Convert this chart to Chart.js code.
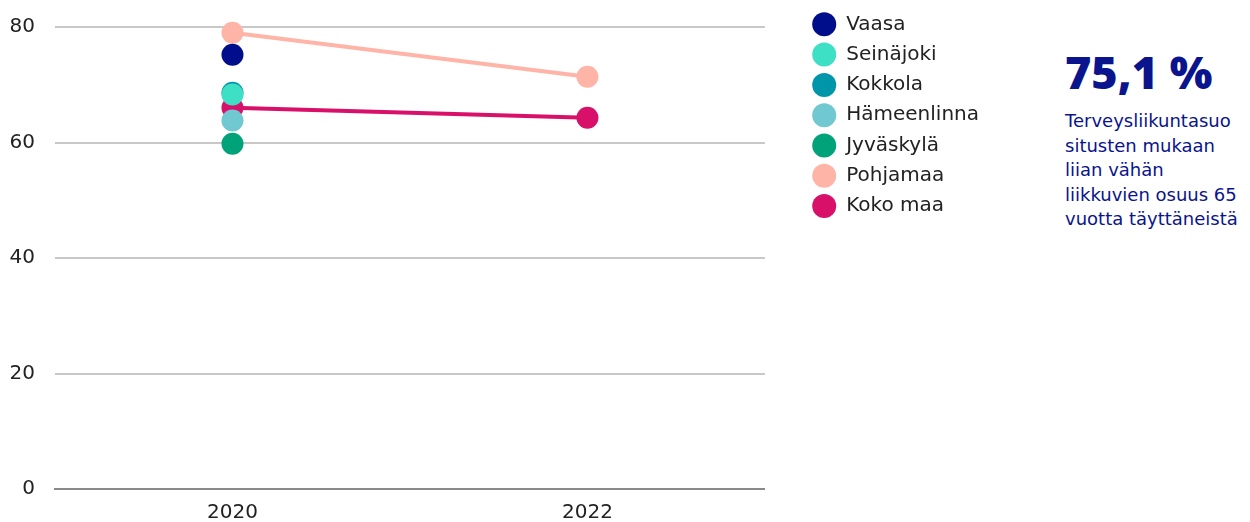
<!DOCTYPE html>
<html lang="fi">
<head>
<meta charset="UTF-8">
<script src="https://cdn.jsdelivr.net/npm/chart.js@4.4.1/dist/chart.umd.min.js"></script>
<title>Liian vähän liikkuvat</title>
<style>
  html, body { margin: 0; background: #fff; overflow: hidden; }
  #wrap { position: absolute; left: 0; top: 0; width: 989px; height: 522px; }
  #kpi { position: absolute; left: 1065px; top: 46px; color: #0a148c; font-family: "DejaVu Sans", sans-serif; }
  #kpi .big { font-family: "Open Sans", sans-serif; font-size: 45px; font-weight: 800; line-height: 52px; }
  #kpi .small { font-size: 18px; line-height: 24.5px; margin-top: 11px; }
</style>
</head>
<body>
<div id="wrap"><canvas id="chart"></canvas></div>
<div id="kpi">
  <div class="big">75,1 %</div>
  <div class="small">Terveysliikuntasuo<br>situsten mukaan<br>liian vähän<br>liikkuvien osuus 65<br>vuotta täyttäneistä</div>
</div>
<script>
const years = ["2020", "2022"];
const vaasa = [75.2, null];
const seinajoki = [68.3, null];
const kokkola = [68.6, null];
const hameenlinna = [63.8, null];
const jyvaskyla = [59.8, null];
const pohjamaa = [79.0, 71.4];
const kokoMaa = [66.0, 64.3];

const series = [
  ["Vaasa", vaasa, "#000e8c"],
  ["Seinäjoki", seinajoki, "#3ddfc5"],
  ["Kokkola", kokkola, "#0096aa"],
  ["Hämeenlinna", hameenlinna, "#70c8d0"],
  ["Jyväskylä", jyvaskyla, "#00a27a"],
  ["Pohjamaa", pohjamaa, "#ffb4a8"],
  ["Koko maa", kokoMaa, "#d8106a"]
];

const font = { family: "'DejaVu Sans', sans-serif", size: 20 };
const GAP = 37; // space between plot and legend

// widen the legend box and push its content right
const legendGap = {
  id: "legendGap",
  afterInit(chart) {
    const lg = chart.legend;
    const fit = lg.fit, draw = lg._draw;
    lg.fit = function () { fit.call(this); this.width += GAP; };
    lg._draw = function () {
      this.ctx.save();
      this.ctx.translate(GAP, 0);
      draw.call(this);
      this.ctx.restore();
    };
  }
};

new Chart(document.getElementById("chart"), {
  type: "line",
  data: {
    labels: years,
    datasets: series.map(([name, vals, col]) => ({
      label: name,
      data: vals,
      borderColor: col,
      backgroundColor: col,
      borderWidth: 4,
      pointRadius: 11,
      pointHoverRadius: 11,
      pointBorderWidth: 0,
      pointStyle: "circle",
      clip: false
    }))
  },
  options: {
    responsive: true,
    maintainAspectRatio: false,
    animation: false,
    layout: { padding: { top: 4, bottom: -15 } },
    plugins: {
      tooltip: { enabled: false },
      legend: {
        position: "right",
        align: "start",
        labels: {
          usePointStyle: true,
          pointStyle: "circle",
          pointStyleWidth: 24,
          boxHeight: 17,
          padding: 10.3,
          color: "#222",
          font: font
        }
      }
    },
    scales: {
      x: {
        offset: true,
        grid: { display: false, drawTicks: false },
        border: { color: "#8a8a8a", width: 2 },
        ticks: { color: "#222", font: font, padding: 12 },
        afterFit(s) { s.paddingLeft = 0; s.paddingRight = 0; }
      },
      y: {
        min: 0,
        max: 80,
        ticks: { stepSize: 20, color: "#222", font: font, padding: 20 },
        grid: { color: "#c8c8c8", lineWidth: 2, drawTicks: false },
        border: { display: false },
        afterFit(s) { s.width = 55; s.paddingTop = 27; s.paddingBottom = 0; }
      }
    }
  },
  plugins: [legendGap]
});
</script>
</body>
</html>
